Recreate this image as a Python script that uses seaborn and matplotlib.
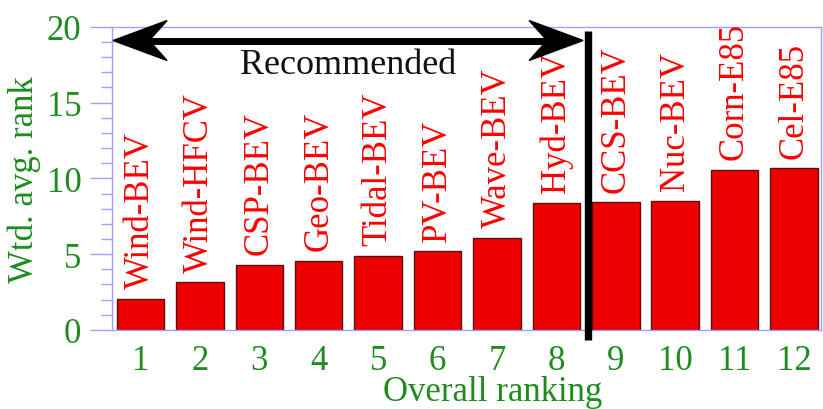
import seaborn as sns
import matplotlib.pyplot as plt
import matplotlib.transforms as mtransforms
from matplotlib.patches import Polygon
from matplotlib.ticker import MultipleLocator
import pandas as pd

# values
ranks = [1, 2, 3, 4, 5, 6, 7, 8, 9, 10, 11, 12]
options = ["Wind-BEV", "Wind-HFCV", "CSP-BEV", "Geo-BEV", "Tidal-BEV", "PV-BEV",
           "Wave-BEV", "Hyd-BEV", "CCS-BEV", "Nuc-BEV", "Corn-E85", "Cel-E85"]
wtd_rank = [2.05, 3.15, 4.3, 4.57, 4.9, 5.19, 6.07, 8.38, 8.43, 8.5, 10.58, 10.67]
n_recommended = 8

df = pd.DataFrame({"rank": ranks, "score": wtd_rank, "option": options})

sns.set_theme(style="white")
plt.rcParams['font.family'] = ['Liberation Serif', 'DejaVu Serif']

green = "#1e8c1e"
frame = "#9f9fff"
fs = 25

fig = plt.figure(figsize=(8.23, 4.10), dpi=100)
ax = fig.add_axes([0.136, 0.193, 0.862, 0.739])

sns.barplot(data=df, x="rank", y="score", native_scale=True, width=0.8,
            color="#ee0000", saturation=1, edgecolor="#5a1010", linewidth=1, ax=ax)

# rotated names above each bar
for r, v, name in zip(ranks, wtd_rank, options):
    ax.text(r, v + 0.7, name, rotation=90, ha="center", va="bottom",
            color="#ff0000", fontsize=fs)

ax.set_xlim(0.52, 12.46)
ax.set_ylim(0, 20)
ax.set_xticks(ranks)
ax.set_yticks([0, 5, 10, 15, 20])
ax.yaxis.set_minor_locator(MultipleLocator(1))

ax.tick_params(axis="x", length=0, pad=10, labelsize=fs, labelcolor=green)
ax.tick_params(axis="y", which="major", left=True, direction="out", length=16,
               width=1, color=frame, pad=6, labelsize=fs, labelcolor=green)
ax.tick_params(axis="y", which="minor", left=True, direction="out", length=8,
               width=1, color=frame)

for s in ax.spines.values():
    s.set_color(frame)
    s.set_linewidth(1)

ax.set_xlabel("Overall ranking", fontsize=fs, color=green)
ax.set_ylabel("Wtd. avg. rank", fontsize=fs, color=green, labelpad=4)
ax.xaxis.set_label_coords(0.536, -0.15)

# cut-off line between recommended and not recommended
cut = n_recommended + 0.54
ax.plot([cut, cut], [19.75, -0.64], color="black", lw=5.3, clip_on=False,
        solid_capstyle="butt", zorder=5)

# double arrow
arrow_y = 19.1
left_tip, right_tip = 0.54, n_recommended + 0.45
ax.plot([left_tip + 0.4, right_tip - 0.4], [arrow_y, arrow_y], color="black",
        lw=5, solid_capstyle="butt", zorder=5)
head = [(0, 0), (0.54, 0.2), (0.36, 0), (0.54, -0.2)]
for tip, sgn in [(left_tip, 1), (right_tip, -1)]:
    tr = fig.dpi_scale_trans + mtransforms.ScaledTranslation(tip, arrow_y, ax.transData)
    pts = [(sgn * hx, hy) for hx, hy in head]
    ax.add_patch(Polygon(pts, closed=True, transform=tr, color="black",
                         clip_on=False, zorder=6))

ax.text((left_tip + right_tip) / 2, 17.5, "Recommended", ha="center", va="center",
        fontsize=fs + 1, color="#111111")

fig.savefig("out.png", dpi=100)
